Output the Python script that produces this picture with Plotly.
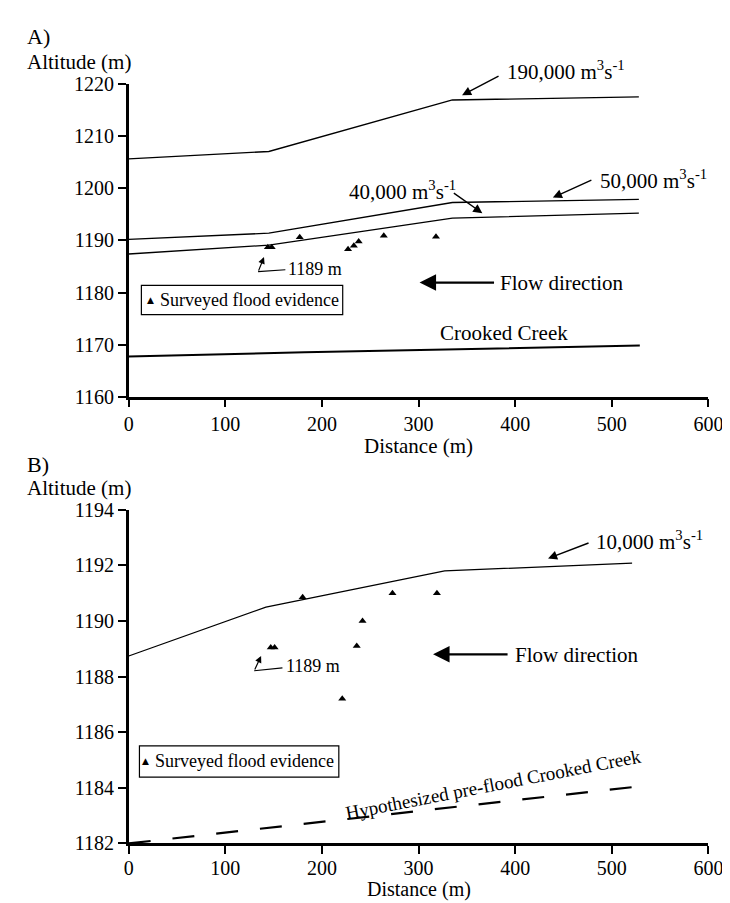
import plotly.graph_objects as go

W, H = 730, 903
FONT = "Liberation Serif"

# ---------------- Panel A data ----------------
prof_dist_a = [0, 145, 335, 528]
q190000_alt = [1205.7, 1207.1, 1217.0, 1217.6]
q50000_alt = [1190.2, 1191.4, 1197.3, 1197.9]
q40000_alt = [1187.4, 1189.1, 1194.3, 1195.25]
creek_dist = [0, 182, 529]
creek_alt = [1167.7, 1168.5, 1169.8]
survey_dist_a = [144, 148, 177, 227, 233, 238, 264, 318]
survey_alt_a = [1188.7, 1188.7, 1190.6, 1188.3, 1189.0, 1189.8, 1190.9, 1190.7]

# ---------------- Panel B data ----------------
prof_dist_b = [0, 142, 327, 521]
q10000_alt = [1188.74, 1190.5, 1191.8, 1192.08]
preflood_dist = [0, 528]
preflood_alt = [1182.0, 1184.05]
survey_dist_b = [147, 151, 180, 221, 236, 242, 273, 319]
survey_alt_b = [1189.05, 1189.05, 1190.85, 1187.2, 1189.1, 1190.0, 1191.0, 1191.0]

x_ticks = [0, 100, 200, 300, 400, 500, 600]
y_ticks_a = [1160, 1170, 1180, 1190, 1200, 1210, 1220]
y_ticks_b = [1182, 1184, 1186, 1188, 1190, 1192, 1194]


def px(x):
    return x / W


def py(y):
    return 1 - y / H


fig = go.Figure()

line_style = dict(color="black", width=1.3)
# Panel A traces
fig.add_trace(go.Scatter(x=prof_dist_a, y=q190000_alt, mode="lines", line=line_style,
                         name="190,000", xaxis="x", yaxis="y", showlegend=False))
fig.add_trace(go.Scatter(x=prof_dist_a, y=q50000_alt, mode="lines", line=line_style,
                         name="50,000", xaxis="x", yaxis="y", showlegend=False))
fig.add_trace(go.Scatter(x=prof_dist_a, y=q40000_alt, mode="lines", line=line_style,
                         name="40,000", xaxis="x", yaxis="y", showlegend=False))
fig.add_trace(go.Scatter(x=creek_dist, y=creek_alt, mode="lines",
                         line=dict(color="black", width=2), name="Crooked Creek",
                         xaxis="x", yaxis="y", showlegend=False))
fig.add_trace(go.Scatter(x=survey_dist_a, y=survey_alt_a, mode="markers",
                         marker=dict(symbol="triangle-up", size=7, color="black"),
                         name="Surveyed flood evidence", xaxis="x", yaxis="y", showlegend=False))

# Panel B traces
fig.add_trace(go.Scatter(x=prof_dist_b, y=q10000_alt, mode="lines", line=line_style,
                         name="10,000", xaxis="x2", yaxis="y2", showlegend=False))
fig.add_trace(go.Scatter(x=preflood_dist, y=preflood_alt, mode="lines",
                         line=dict(color="black", width=2.2, dash="22px,22px"),
                         name="Hypothesized pre-flood Crooked Creek",
                         xaxis="x2", yaxis="y2", showlegend=False))
fig.add_trace(go.Scatter(x=survey_dist_b, y=survey_alt_b, mode="markers",
                         marker=dict(symbol="triangle-up", size=7, color="black"),
                         name="Surveyed flood evidence", xaxis="x2", yaxis="y2", showlegend=False))

x_dom = [px(119), px(715)]
axis_common = dict(showgrid=False, zeroline=False, showline=True, linecolor="black",
                   linewidth=2.5, ticks="outside", ticklen=8, tickwidth=2, tickcolor="black",
                   tickfont=dict(family=FONT, size=20, color="black"))

fig.update_layout(
    width=W, height=H,
    margin=dict(l=0, r=0, t=0, b=0),
    paper_bgcolor="white", plot_bgcolor="white",
    font=dict(family=FONT, color="black"),
    xaxis=dict(domain=x_dom, range=[0, 600], tickvals=x_ticks, anchor="y", **axis_common),
    yaxis=dict(domain=[py(387), py(67)], range=[1160, 1220], tickvals=y_ticks_a,
               anchor="x", **axis_common),
    xaxis2=dict(domain=x_dom, range=[0, 600], tickvals=x_ticks, anchor="y2",
                ticklabelstandoff=-3, **axis_common),
    yaxis2=dict(domain=[py(845), py(503)], range=[1182, 1194], tickvals=y_ticks_b,
                anchor="x2", **axis_common),
)

ann = []


def text(x, y, s, size, xanchor="left", angle=0):
    ann.append(dict(xref="paper", yref="paper", x=px(x), y=py(y), text=s, showarrow=False,
                    xanchor=xanchor, yanchor="middle", textangle=angle,
                    font=dict(family=FONT, size=size, color="black")))


def arrow(xr, yr, x, y, ax, ay, size=1.3, width=1.4):
    ann.append(dict(xref=xr, yref=yr, x=x, y=y, ax=ax, ay=ay, text="", showarrow=True,
                    arrowhead=2, arrowsize=size, arrowwidth=width, arrowcolor="black"))


unit = " m<sup>3</sup>s<sup>-1</sup>"
# Panel labels and axis titles
text(12, 18, "A)", 22)
text(12, 44, "Altitude (m)", 21)
text(417, 438, "Distance (m)", 21, xanchor="center")
text(12, 457, "B)", 22)
text(12, 481, "Altitude (m)", 21)
text(417, 892, "Distance (m)", 20, xanchor="center")

# Panel A annotations
text(506, 53, "190,000" + unit, 21)
arrow("x", "y", 345, 1217.9, 38, -20)
text(601, 165, "50,000" + unit, 21)
arrow("x", "y", 439, 1198.25, 40, -18)
text(458, 176, "40,000" + unit, 21, xanchor="right")
arrow("x", "y", 366, 1195.25, -30, -21)
text(281, 256, "1189 m", 18)
arrow("x", "y", 140, 1186.8, -6, 15, size=1.1, width=1.2)
text(499, 271, "Flow direction", 21)
arrow("x", "y", 301, 1181.9, 76, 0, size=1.5, width=2.2)
text(505, 322, "Crooked Creek", 21, xanchor="center")
# legend A
text(136, 288, "<span style='font-size:9px;font-family:DejaVu Sans'>▲</span>", 9)
text(149, 288, "Surveyed flood evidence", 18)

# Panel B annotations
text(597, 535, "10,000" + unit, 21)
arrow("x2", "y2", 434, 1192.25, 42, -16)
text(279, 663, "1189 m", 18)
arrow("x2", "y2", 137, 1188.74, -7, 15, size=1.1, width=1.2)
text(514, 652, "Flow direction", 21)
arrow("x2", "y2", 315, 1188.8, 76, 0, size=1.5, width=2.2)
text(494, 785, "Hypothesized pre-flood Crooked Creek", 19, xanchor="center", angle=-11)
text(131, 761, "<span style='font-size:9px;font-family:DejaVu Sans'>▲</span>", 9)
text(144, 761, "Surveyed flood evidence", 18)

fig.update_layout(annotations=ann)

shapes = [
    # legend boxes
    dict(type="rect", xref="paper", yref="paper", x0=px(132), y0=py(303), x1=px(339), y1=py(273),
         line=dict(color="black", width=1.2)),
    dict(type="rect", xref="paper", yref="paper", x0=px(130), y0=py(777), x1=px(335), y1=py(745),
         line=dict(color="black", width=1.2)),
    # leader lines for 1189 m labels
    dict(type="line", xref="paper", yref="paper", x0=px(252), y0=py(259), x1=px(280), y1=py(257),
         line=dict(color="black", width=1.2)),
    dict(type="line", xref="paper", yref="paper", x0=px(248), y0=py(668), x1=px(277), y1=py(665),
         line=dict(color="black", width=1.2)),
]
fig.update_layout(shapes=shapes)

fig.write_html("out.html", config={"displayModeBar": False})
